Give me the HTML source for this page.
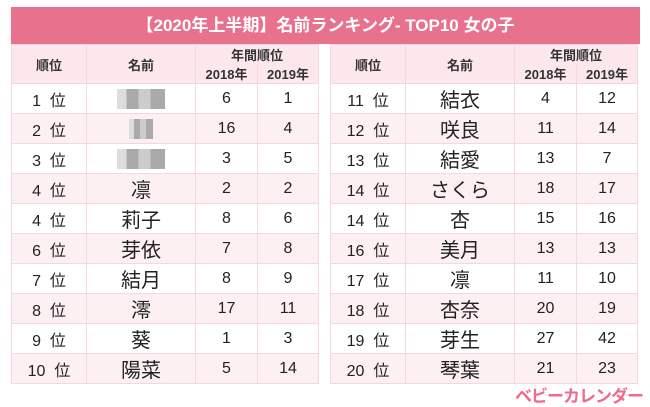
<!DOCTYPE html>
<html><head><meta charset="utf-8"><style>
body{margin:0;width:650px;height:400px;background:#fff;overflow:hidden;font-family:"Liberation Sans","Noto Sans CJK JP",sans-serif;position:relative}
.title{position:absolute;left:11px;top:7px;width:629px;height:37px;background:#e8728e;color:#fff;font-weight:bold;font-size:17px;line-height:37px;text-align:center}
table{position:absolute;top:44px;border-collapse:collapse;table-layout:fixed}
td{border:1px solid #f4d8df;text-align:center;padding:0;color:#222}
tr.h td{background:#fce7ec;font-weight:bold;font-size:13px;color:#333}
tr.r td{height:29px;font-size:16px}
tr.r:nth-child(odd) td{background:#fff}
tr.r:nth-child(even) td{background:#fdf0f3}
tr.r td.n{font-size:20px}
.b{display:inline-block;height:20px;vertical-align:middle;background:linear-gradient(90deg,#ddd 0 20%,#aaa 20% 45%,#ccc 45% 70%,#aaa 70%)}
.logo{position:absolute;left:515px;top:382px;color:#f06a8a;font-weight:bold;font-size:17px;letter-spacing:-1px}
</style></head><body>
<div class="title">【2020年上半期】名前ランキング- TOP10 女の子</div>
<table style="left:11px;width:307px">
<colgroup><col style="width:75px"><col style="width:109px"><col style="width:62px"><col style="width:61px"></colgroup>
<tr class="h"><td rowspan="2" style="height:37px">順位</td><td rowspan="2">名前</td><td colspan="2" style="height:18px;border-bottom:none">年間順位</td></tr>
<tr class="h"><td style="height:18px;border-top:none">2018年</td><td style="border-top:none">2019年</td></tr>
<tr class="r"><td>1&nbsp; 位</td><td><span class="b" style="width:48px"></span></td><td>6</td><td>1</td></tr>
<tr class="r"><td>2&nbsp; 位</td><td><span class="b" style="width:24px"></span></td><td>16</td><td>4</td></tr>
<tr class="r"><td>3&nbsp; 位</td><td><span class="b" style="width:48px"></span></td><td>3</td><td>5</td></tr>
<tr class="r"><td>4&nbsp; 位</td><td class="n">凛</td><td>2</td><td>2</td></tr>
<tr class="r"><td>4&nbsp; 位</td><td class="n">莉子</td><td>8</td><td>6</td></tr>
<tr class="r"><td>6&nbsp; 位</td><td class="n">芽依</td><td>7</td><td>8</td></tr>
<tr class="r"><td>7&nbsp; 位</td><td class="n">結月</td><td>8</td><td>9</td></tr>
<tr class="r"><td>8&nbsp; 位</td><td class="n">澪</td><td>17</td><td>11</td></tr>
<tr class="r"><td>9&nbsp; 位</td><td class="n">葵</td><td>1</td><td>3</td></tr>
<tr class="r"><td>10&nbsp; 位</td><td class="n">陽菜</td><td>5</td><td>14</td></tr>
</table>
<table style="left:330px;width:307px">
<colgroup><col style="width:75px"><col style="width:109px"><col style="width:62px"><col style="width:61px"></colgroup>
<tr class="h"><td rowspan="2" style="height:37px">順位</td><td rowspan="2">名前</td><td colspan="2" style="height:18px;border-bottom:none">年間順位</td></tr>
<tr class="h"><td style="height:18px;border-top:none">2018年</td><td style="border-top:none">2019年</td></tr>
<tr class="r"><td>11&nbsp; 位</td><td class="n">結衣</td><td>4</td><td>12</td></tr>
<tr class="r"><td>12&nbsp; 位</td><td class="n">咲良</td><td>11</td><td>14</td></tr>
<tr class="r"><td>13&nbsp; 位</td><td class="n">結愛</td><td>13</td><td>7</td></tr>
<tr class="r"><td>14&nbsp; 位</td><td class="n">さくら</td><td>18</td><td>17</td></tr>
<tr class="r"><td>14&nbsp; 位</td><td class="n">杏</td><td>15</td><td>16</td></tr>
<tr class="r"><td>16&nbsp; 位</td><td class="n">美月</td><td>13</td><td>13</td></tr>
<tr class="r"><td>17&nbsp; 位</td><td class="n">凛</td><td>11</td><td>10</td></tr>
<tr class="r"><td>18&nbsp; 位</td><td class="n">杏奈</td><td>20</td><td>19</td></tr>
<tr class="r"><td>19&nbsp; 位</td><td class="n">芽生</td><td>27</td><td>42</td></tr>
<tr class="r"><td>20&nbsp; 位</td><td class="n">琴葉</td><td>21</td><td>23</td></tr>
</table>
<div class="logo">ベビーカレンダー</div>
</body></html>
